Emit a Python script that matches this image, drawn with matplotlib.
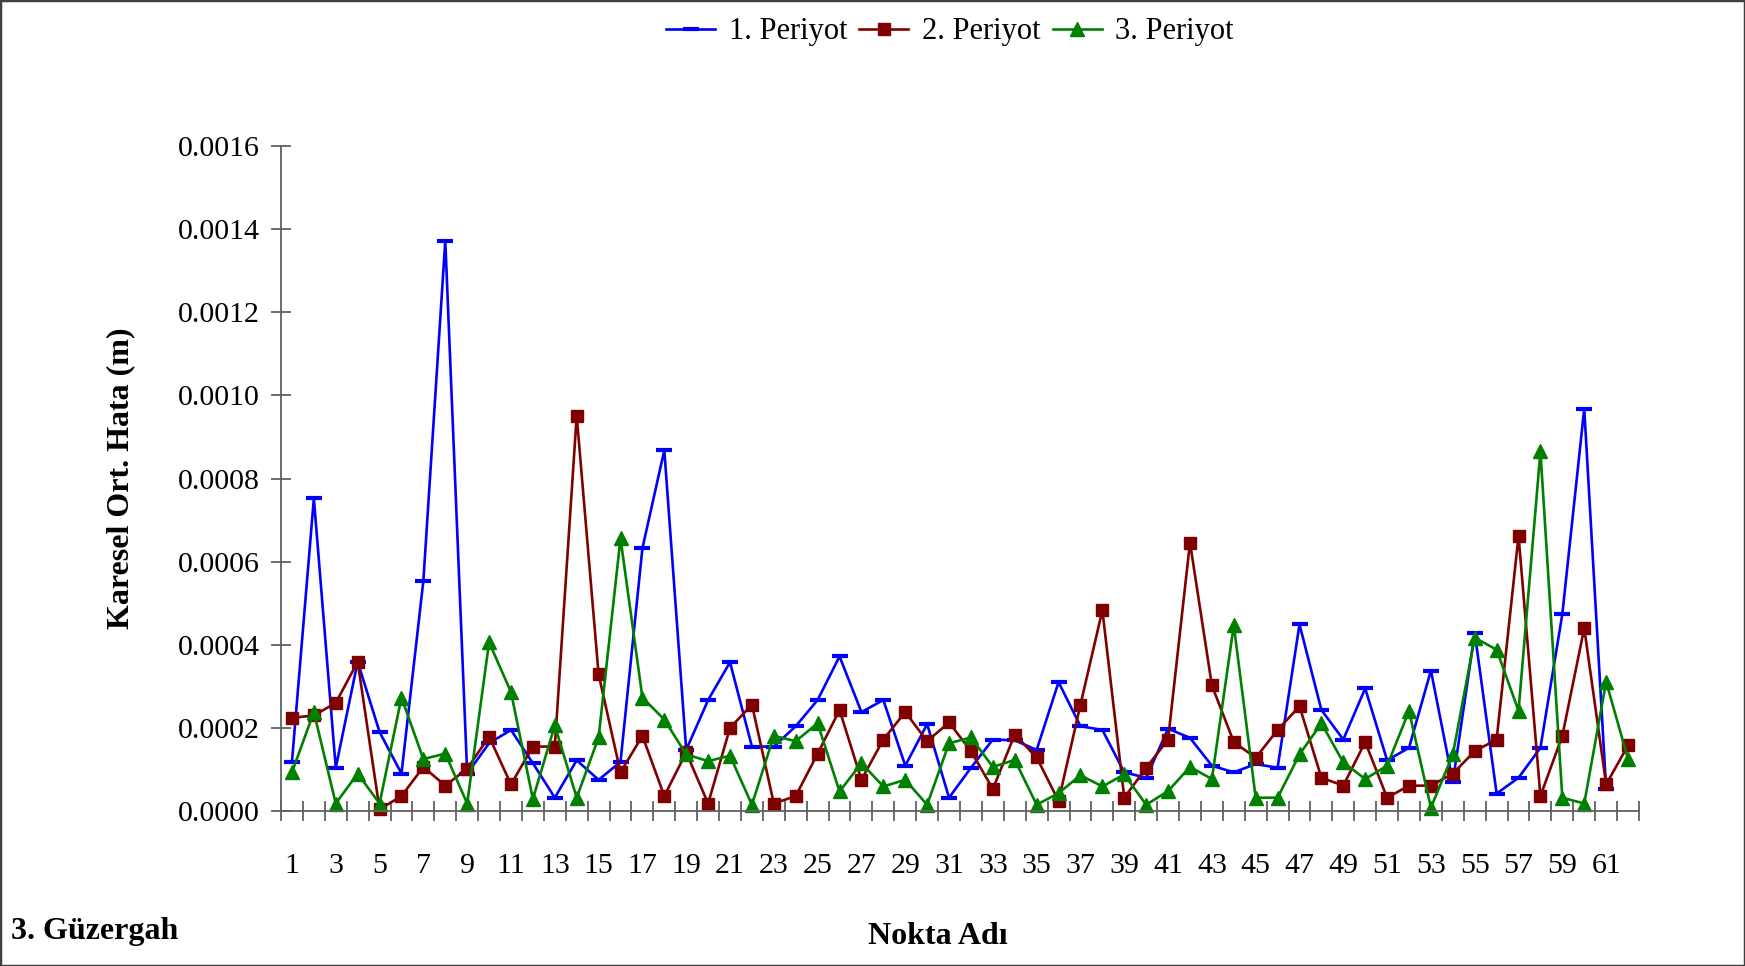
import matplotlib
matplotlib.use("Agg")
import matplotlib.pyplot as plt
from matplotlib.patches import Rectangle
from matplotlib.ticker import FixedLocator, FuncFormatter

plt.rcParams["font.family"] = ["Liberation Serif", "DejaVu Serif"]

# Point numbers along the route
points = list(range(1, 63))
xtick_labels = [str(p) for p in range(1, 62, 2)]

# RMS error (m) per point for each measurement period
period1 = [0.000118, 0.000752, 0.000104, 0.000359, 0.000190, 0.000090, 0.000554, 0.001372,
           0.000090, 0.000163, 0.000195, 0.000115, 0.000032, 0.000122, 0.000075, 0.000118,
           0.000632, 0.000868, 0.000147, 0.000267, 0.000358, 0.000155, 0.000155, 0.000204,
           0.000267, 0.000372, 0.000238, 0.000267, 0.000109, 0.000209, 0.000032, 0.000104,
           0.000172, 0.000170, 0.000147, 0.000310, 0.000204, 0.000195, 0.000093, 0.000080,
           0.000198, 0.000176, 0.000109, 0.000093, 0.000113, 0.000104, 0.000449, 0.000243,
           0.000172, 0.000295, 0.000122, 0.000152, 0.000338, 0.000070, 0.000429, 0.000042,
           0.000080, 0.000152, 0.000474, 0.000968, 0.000053]

period2 = [0.000224, 0.000230, 0.000260, 0.000359, 0.000004, 0.000036, 0.000106, 0.000061,
           0.000102, 0.000179, 0.000064, 0.000155, 0.000155, 0.000951, 0.000329, 0.000093,
           0.000181, 0.000036, 0.000141, 0.000018, 0.000200, 0.000256, 0.000018, 0.000036,
           0.000138, 0.000243, 0.000075, 0.000172, 0.000238, 0.000168, 0.000213, 0.000144,
           0.000053, 0.000184, 0.000129, 0.000024, 0.000256, 0.000483, 0.000032, 0.000104,
           0.000172, 0.000646, 0.000302, 0.000166, 0.000128, 0.000195, 0.000252, 0.000080,
           0.000061, 0.000166, 0.000032, 0.000061, 0.000061, 0.000090, 0.000144, 0.000172,
           0.000662, 0.000036, 0.000181, 0.000440, 0.000064, 0.000158]

period3 = [0.000093, 0.000238, 0.000018, 0.000090, 0.000018, 0.000273, 0.000125, 0.000138,
           0.000018, 0.000406, 0.000286, 0.000029, 0.000206, 0.000032, 0.000177, 0.000656,
           0.000273, 0.000220, 0.000136, 0.000120, 0.000133, 0.000015, 0.000181, 0.000168,
           0.000211, 0.000047, 0.000115, 0.000059, 0.000075, 0.000015, 0.000163, 0.000177,
           0.000106, 0.000123, 0.000015, 0.000043, 0.000086, 0.000059, 0.000088, 0.000015,
           0.000048, 0.000106, 0.000077, 0.000447, 0.000032, 0.000032, 0.000136, 0.000211,
           0.000117, 0.000077, 0.000109, 0.000241, 0.000008, 0.000136, 0.000417, 0.000388,
           0.000241, 0.000865, 0.000032, 0.000018, 0.000311, 0.000125]

series_names = ["1. Periyot", "2. Periyot", "3. Periyot"]

fig = plt.figure(figsize=(17.45, 9.66), dpi=100)
ax = fig.add_axes([281 / 1745, 1 - 811 / 966, (1639 - 281) / 1745, (811 - 146) / 966])

ax.plot(points[:len(period1)], period1, color="#0000FF", lw=1.9, marker="_",
        markersize=11, markeredgewidth=3, label=series_names[0], clip_on=False)
ax.plot(points, period2, color="#800000", lw=1.9, marker="s",
        markersize=8.5, label=series_names[1], clip_on=False)
ax.plot(points, period3, color="#008000", lw=1.9, marker="^",
        markersize=10, label=series_names[2], clip_on=False)

ax.set_xlim(0.5, 62.5)
ax.set_ylim(0, 0.0016)

for side in ("top", "right"):
    ax.spines[side].set_visible(False)
for side in ("left", "bottom"):
    ax.spines[side].set_color("#606060")
    ax.spines[side].set_linewidth(1.3)

ax.set_yticks([i * 0.0002 for i in range(9)])
ax.yaxis.set_major_formatter(FuncFormatter(lambda v, _: f"{v:.4f}"))
ax.tick_params(axis="y", direction="inout", length=14, width=1.3, color="#606060",
               labelsize=21.5, pad=8)

ax.xaxis.set_major_locator(FixedLocator(list(range(1, 62, 2))))
ax.set_xticklabels(xtick_labels)
ax.xaxis.set_minor_locator(FixedLocator([p + 0.5 for p in range(0, 63)]))
ax.tick_params(axis="x", which="major", length=0, labelsize=21.5, pad=30)
ax.tick_params(axis="x", which="minor", direction="inout", length=14, width=1.3,
               color="#606060")

ax.set_ylabel("Karesel Ort. Hata (m)", fontsize=23, fontweight="bold", labelpad=31)

fig.text(938 / 1745, 1 - 937 / 966, "Nokta Adı", fontsize=23, fontweight="bold",
         ha="center", va="center")
fig.text(11 / 1745, 1 - 931 / 966, "3. Güzergah", fontsize=23, fontweight="bold",
         ha="left", va="center")

fig.legend(loc="center", bbox_to_anchor=(950 / 1745, 1 - 32 / 966), ncol=3,
           frameon=False, fontsize=22, handlelength=1.6, handletextpad=0.45,
           columnspacing=0.4)

fig.patches.append(Rectangle((0, 0), 1, 1, transform=fig.transFigure, fill=False,
                             edgecolor="#404040", linewidth=2.5, zorder=10))

fig.savefig("out.png", dpi=100)
